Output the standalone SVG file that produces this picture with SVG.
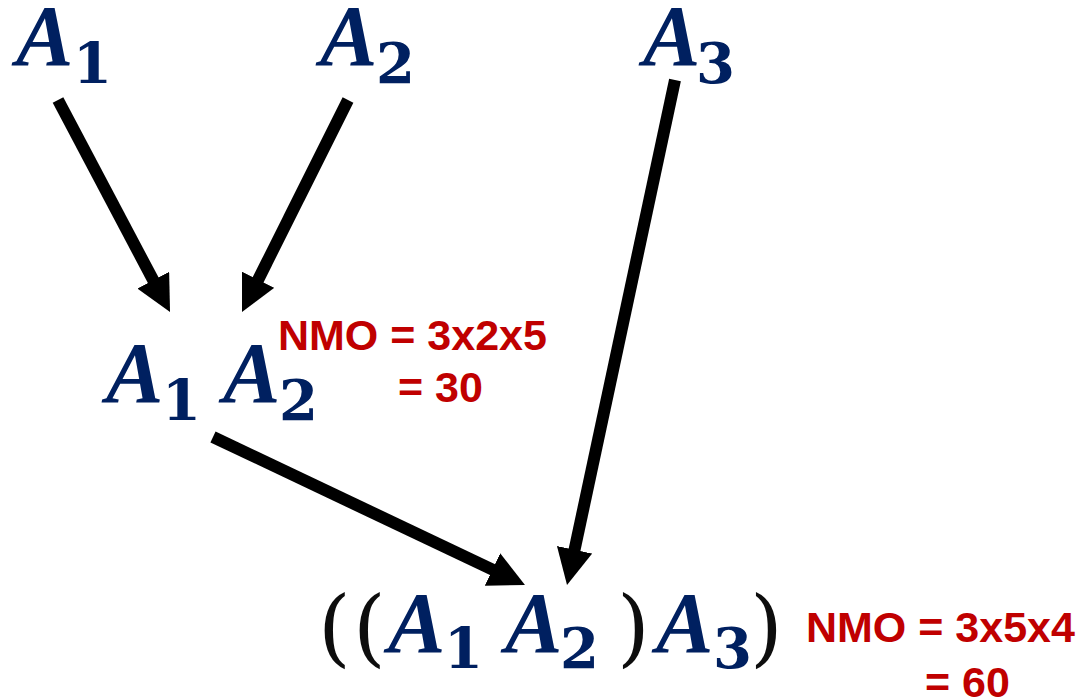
<svg xmlns="http://www.w3.org/2000/svg" width="1076" height="699" viewBox="0 0 1076 699">
<style>
.A{font-family:"Liberation Serif","Times New Roman",serif;font-weight:bold;font-style:italic;font-size:86px;fill:#002060}
.s{font-family:"DejaVu Serif",serif;font-weight:bold;font-size:56px;fill:#002060}
.p{font-family:"DejaVu Serif",serif;font-size:84px;fill:#0d0d0d}
.r{font-family:"Liberation Sans",Arial,sans-serif;font-weight:bold;font-size:43px;fill:#c00000}
.c{stroke:#000;stroke-width:12;fill:none;marker-end:url(#ah)}
</style>
<defs>
<marker id="ah" viewBox="0 0 3 3" markerWidth="3" markerHeight="3" refX="0.3" refY="1.5" orient="auto" markerUnits="strokeWidth">
<path d="M0,0 L3,1.5 L0,3 z" fill="#000"/>
</marker>
</defs>
<rect width="1076" height="699" fill="#fff"/>
<g id="connectors">
<line class="c" x1="58" y1="100" x2="154.9" y2="283.4"/>
<line class="c" x1="348" y1="100" x2="256.5" y2="283"/>
<line class="c" x1="675" y1="80" x2="573.8" y2="553.3"/>
<line class="c" x1="213" y1="437" x2="495.7" y2="571.1"/>
</g>
<g id="node-A1"><text class="A" x="16" y="65">A</text><text class="s" x="73" y="83">1</text></g>
<g id="node-A2"><text class="A" x="320" y="65">A</text><text class="s" x="376" y="83">2</text></g>
<g id="node-A3"><text class="A" x="643" y="65">A</text><text class="s" x="696" y="83">3</text></g>
<g id="node-A1A2">
<text class="A" x="106" y="402">A</text><text class="s" x="162" y="420">1</text>
<text class="A" x="223" y="402">A</text><text class="s" x="279" y="420">2</text>
<text class="r" x="278" y="350">NMO = 3x2x5</text>
<text class="r" x="398" y="402">= 30</text>
</g>
<g id="node-A1A2A3">
<text class="p" x="318" y="656">(</text><text class="p" x="353" y="656">(</text>
<text class="A" x="388" y="652">A</text><text class="s" x="444" y="668">1</text>
<text class="A" x="505" y="652">A</text><text class="s" x="560" y="668">2</text>
<text class="p" x="617" y="656">)</text>
<text class="A" x="656" y="652">A</text><text class="s" x="713" y="668">3</text>
<text class="p" x="750" y="656">)</text>
<text class="r" x="806" y="642">NMO = 3x5x4</text>
<text class="r" x="925" y="697">= 60</text>
</g>
</svg>
